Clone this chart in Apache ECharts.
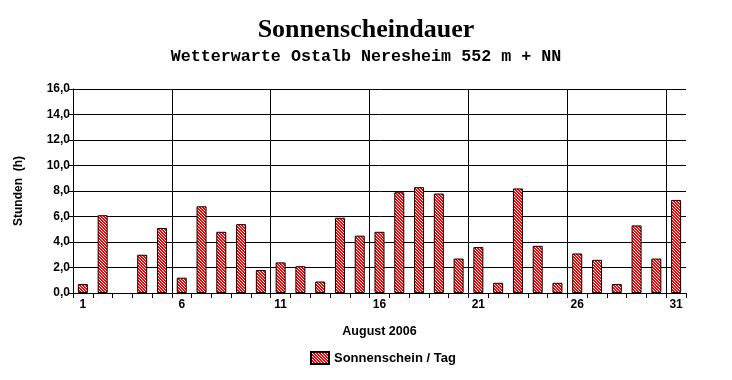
<!DOCTYPE html>
<html><head><meta charset="utf-8">
<script src="https://cdn.jsdelivr.net/npm/echarts@6/dist/echarts.min.js"></script>
<style>html,body{margin:0;padding:0;background:#fff}#c{width:732px;height:380px}</style>
</head><body><div id="c"></div>
<script>
const days = ['1','2','3','4','5','6','7','8','9','10','11','12','13','14','15','16','17','18','19','20','21','22','23','24','25','26','27','28','29','30','31'];
const sunshine = [0.7,6.1,0,3.0,5.1,1.2,6.8,4.8,5.4,1.8,2.4,2.1,0.9,5.9,4.5,4.8,7.9,8.3,7.8,2.7,3.6,0.8,8.2,3.7,0.8,3.1,2.6,0.7,5.3,2.7,7.3];
const yTicks = [0,2,4,6,8,10,12,14,16];
const weekGridDays = [5,10,15,20,25,30]; // vertical grid lines before days 6, 11, 16, 21, 26, 31

function hatch(){
  const n = 3;
  const c = document.createElement('canvas');
  c.width = n; c.height = n;
  const g = c.getContext('2d');
  g.fillStyle = '#ff0000'; g.fillRect(0,0,n,n);
  g.fillStyle = '#ffffff';
  for (let y=0;y<n;y++) for (let x=0;x<n;x++) if (((x - y) % n + n) % n === 0) g.fillRect(x,y,1,1);
  return c;
}
const pat = {image: hatch(), repeat: 'repeat'};
const chart = echarts.init(document.getElementById('c'), null, {renderer:'canvas'});
const lab = {color:'#000', fontFamily:'Liberation Sans', fontWeight:'bold', fontSize:12};
chart.setOption({
  animation:false,
  title:[
    {text:'Sonnenscheindauer', left:'center', top:12, textStyle:{fontFamily:'Liberation Serif', fontWeight:'bold', fontSize:26, color:'#000'}},
    {text:'Wetterwarte Ostalb Neresheim 552 m + NN', left:'center', top:43, textStyle:{fontFamily:'Liberation Mono', fontWeight:'bold', fontSize:16.7, color:'#000'}}
  ],
  legend:{bottom:10, left:305, icon:'rect', itemWidth:18, itemHeight:12, itemGap:8,
    textStyle:Object.assign({}, lab, {fontSize:13}), data:['Sonnenschein / Tag']},
  grid:{left:73, right:46, top:89, bottom:87},
  xAxis:[{type:'category', data:days, boundaryGap:true,
    name:'August 2006', nameLocation:'middle', nameGap:32, nameTextStyle:Object.assign({}, lab, {fontSize:12.5}),
    axisLine:{lineStyle:{color:'#000', width:1}},
    axisTick:{show:true, interval:0, length:5, lineStyle:{color:'#000'}},
    axisLabel:Object.assign({interval:(i)=>i%5===0, margin:6}, lab),
    splitLine:{show:false}
  },{type:'value', min:0, max:days.length, show:false, splitLine:{show:false}}],
  yAxis:{type:'value', min:yTicks[0], max:yTicks[yTicks.length-1], interval:2,
    name:'Stunden  (h)', nameLocation:'middle', nameGap:48, nameRotate:90, nameTextStyle:Object.assign({}, lab),
    axisLine:{show:true, lineStyle:{color:'#000'}},
    axisTick:{show:true, length:4, lineStyle:{color:'#000'}},
    axisLabel:Object.assign({margin:3, formatter:(v)=>v.toFixed(1).replace('.',',')}, lab),
    splitLine:{show:true, lineStyle:{color:'#000', width:1}}
  },
  series:[
    {name:'grid', type:'line', xAxisIndex:1, yAxisIndex:0, data:[], silent:true,
     markLine:{silent:true, symbol:'none', label:{show:false}, animation:false,
       lineStyle:{color:'#000', width:1, type:'solid'},
       data: weekGridDays.map(d => ({xAxis:d}))}},
    {name:'Sonnenschein / Tag', type:'bar', xAxisIndex:0, yAxisIndex:0, data:sunshine.map(v => v === 0 ? null : v), barWidth:10,
     itemStyle:{color:pat, borderColor:'#000', borderWidth:1}}
  ]
});
</script></body></html>
